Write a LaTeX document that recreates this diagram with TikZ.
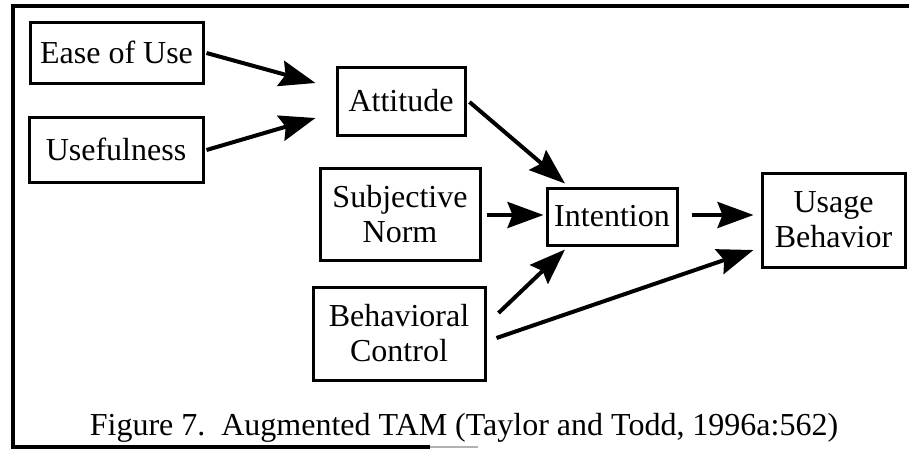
\documentclass[tikz,border=0pt]{standalone}
\usepackage{fontspec}
\setmainfont{Liberation Serif}
\usetikzlibrary{arrows.meta,calc}

\begin{document}
\begin{tikzpicture}[x=0.5pt,y=-0.5pt,
  font=\fontsize{16}{17.5}\selectfont,
  box/.style={draw,line width=1.5pt,rectangle,inner sep=0pt,align=center},
  arr/.style={line width=2pt,-{Stealth[length=18pt,width=13pt,inset=2.5pt]}}]

% page extent
\useasboundingbox (0,0) rectangle (909,455);

% outer frame
\draw[line width=1.6pt] (909,6) -- (13,6) -- (13,447) -- (430,447);
\draw[line width=1.2pt,gray!60] (430,447) -- (478,447);

% constructs
\node[box,minimum width=86.5pt,minimum height=30.5pt] (ease)   at (116.5,52.5) {Ease of Use};
\node[box,minimum width=87pt,minimum height=32.5pt]   (useful) at (116,149.5)  {Usefulness};
\node[box,minimum width=64pt,minimum height=34pt]     (att)    at (401,101)    {Attitude};
\node[box,minimum width=80pt,minimum height=46pt]     (subj)   at (400,214)    {Subjective\\Norm};
\node[box,minimum width=65pt,minimum height=28.5pt]   (intent) at (612,216.5)  {Intention};
\node[box,minimum width=71.5pt,minimum height=47pt]   (usage)  at (833.5,220)  {Usage\\Behavior};
\node[box,minimum width=86pt,minimum height=46.5pt]   (behav)  at (399,333.5)  {Behavioral\\Control};

% relations
\draw[arr] ($(ease.east)+(2,0.5)$)    -- ($(att.west)+(-20,-18)$);
\draw[arr] ($(useful.east)+(2,0.5)$)  -- ($(att.west)+(-20,17)$);
\draw[arr] ($(att.east)+(3,1)$)       -- ($(intent.north)+(-47,-3)$);
\draw[arr] ($(subj.east)+(5,1)$)      -- ($(intent.west)+(-2,-1.5)$);
\draw[arr] ($(behav.east)+(12,-20.5)$) -- ($(intent.south)+(-47,3)$);
\draw[arr] ($(behav.east)+(10,4.5)$)  -- ($(usage.west)+(-7,30)$);
\draw[arr] ($(intent.east)+(13,-1.5)$) -- ($(usage.west)+(-7,-5)$);

% caption
\node[anchor=base,inner sep=0pt] (cap) at (464,435)
  {Figure 7.\ \ Augmented TAM (Taylor and Todd, 1996a:562)};
\end{tikzpicture}
\end{document}
